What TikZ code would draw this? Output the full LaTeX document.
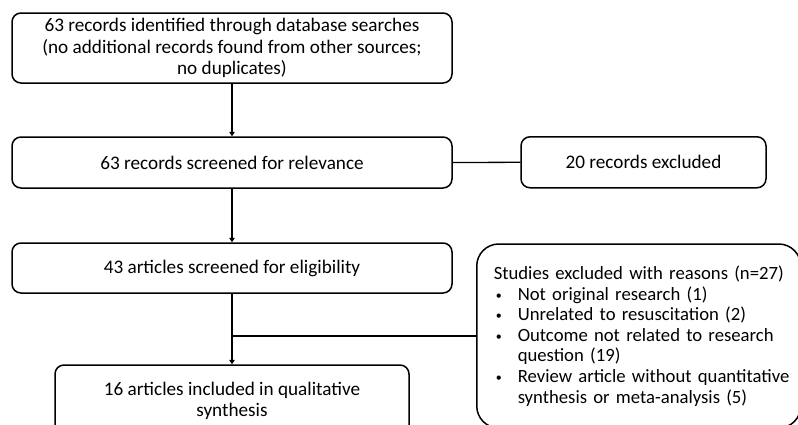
\documentclass[tikz,border=0pt]{standalone}
\usepackage{fontspec}
\setmainfont{Carlito}
\usetikzlibrary{arrows.meta}
\tikzset{
  box/.style={draw=black, line width=1.5pt, rounded corners=9pt, inner sep=0pt, align=center,
    font=\fontsize{19.2pt}{21.6pt}\selectfont},
  bigbox/.style={draw=black, line width=1.5pt, rounded corners=22pt, inner xsep=17pt, inner ysep=0pt,
    align=left, font=\fontsize{18.7pt}{20.6pt}\selectfont},
  flow/.style={line width=2pt, -{Triangle[width=5.5pt,length=4.5pt]}},
  link/.style={line width=2pt},
  thinlink/.style={line width=1.3pt}
}
\newcommand{\bul}{\makebox[24pt][l]{\hspace{2pt}\raisebox{1pt}{\fontsize{12pt}{12pt}\selectfont\textbullet}}}
\newcommand{\cont}{\hspace*{24pt}}
\begin{document}
\begin{tikzpicture}[x=1pt,y=-1pt]
\useasboundingbox (0,0) rectangle (798,424);
\clip (0,0) rectangle (798,424);
\fill[white] (0,0) rectangle (798,424);

\node[box, minimum width=440pt, minimum height=70pt] (b1) at (232,48)
  {63 records identified through database searches\\(no additional records found from other sources;\\no duplicates)};
\node[box, minimum width=440pt, minimum height=51pt] (b2) at (232,162.5)
  {63 records screened for relevance};
\node[box, minimum width=245pt, minimum height=51pt] (b3) at (643.5,162.3)
  {20 records excluded};
\node[box, minimum width=440pt, minimum height=50pt] (b4) at (232,268)
  {43 articles screened for eligibility};
\node[box, minimum width=354pt, minimum height=72pt] (b5) at (232,401)
  {16 articles included in qualitative\\synthesis};
\node[bigbox, text width=290pt, minimum height=184pt, anchor=west] (b6) at (476,336)
  {\mbox{Studies excluded with reasons (n=27)}\\
   \mbox{\bul Not original research (1)}\\
   \mbox{\bul Unrelated to resuscitation (2)}\\
   \mbox{\bul Outcome not related to research}\\
   \mbox{\cont question (19)}\\
   \mbox{\bul Review article without quantitative}\\
   \mbox{\cont synthesis or meta-analysis (5)}};

\coordinate (j) at (b6.west -| b4.south);

\draw[flow] (b1.south) -- (b2.north);
\draw[thinlink] (b2.east) -- (b3.west);
\draw[flow] (b2.south) -- (b4.north);
\draw[flow] (b4.south) -- (b5.north);
\draw[link] (j) -- (b6.west);
\end{tikzpicture}
\end{document}
